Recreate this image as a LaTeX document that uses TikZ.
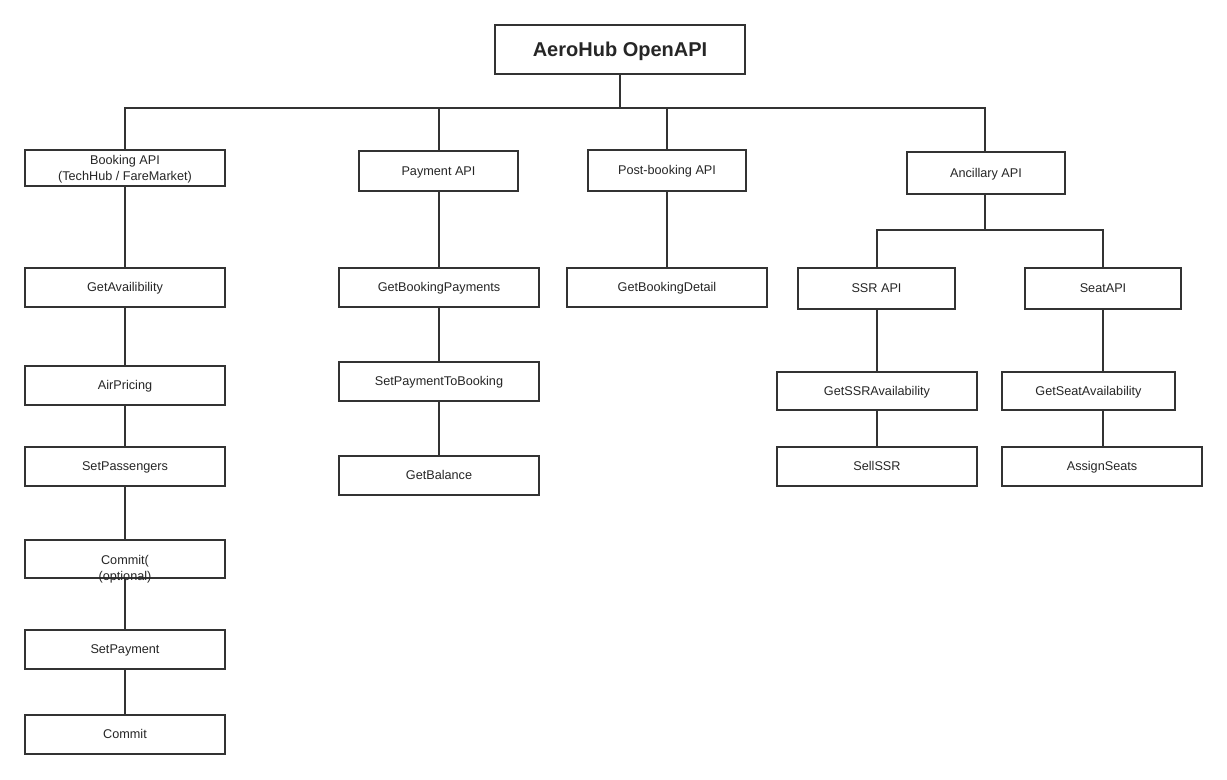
\documentclass[tikz,border=0pt]{standalone}
\usepackage{fontspec}
\setmainfont{Liberation Sans}
\newcommand\bx[6]{\node[box,minimum width={(#4-#2)*0.75pt},minimum height={(#5-#3)*0.75pt}] (#1) at ({(#2+#4)/2},{(#3+#5)/2}) {#6};}
\begin{document}
\begin{tikzpicture}[x=0.75pt,y=-0.75pt,
 box/.style={draw=black!80,line width=1.2pt,fill=white,inner sep=0pt,align=center,font=\fontsize{9.5}{12}\selectfont,text=black!85,text depth=0.5pt},
 ln/.style={draw=black!80,line width=1.2pt}]
\fill[white] (0,0) rectangle (1227,780);
\useasboundingbox (0,0) rectangle (1227,780);
% connectors first
\draw[ln] (620,74) -- (620,108);
\draw[ln] (125,150) -- (125,108) -- (985,108) -- (985,152);
\draw[ln] (439,108) -- (439,151);
\draw[ln] (667,108) -- (667,150);
\draw[ln] (125,186) -- (125,715);
\draw[ln] (439,191) -- (439,456);
\draw[ln] (667,191) -- (667,268);
\draw[ln] (985,194) -- (985,230);
\draw[ln] (877,268) -- (877,230) -- (1103,230) -- (1103,268);
\draw[ln] (877,309) -- (877,447);
\draw[ln] (1103,309) -- (1103,447);
\bx{root}{495}{25}{745}{74}{\fontsize{15}{18}\selectfont\bfseries AeroHub OpenAPI}
\bx{book}{25}{150}{225}{186}{Booking API\\(TechHub / FareMarket)}
\bx{pay}{359}{151}{518}{191}{Payment API}
\bx{post}{588}{150}{746}{191}{Post-booking API}
\bx{anc}{907}{152}{1065}{194}{Ancillary API}
\bx{ga}{25}{268}{225}{307}{GetAvailibility}
\bx{ap}{25}{366}{225}{405}{AirPricing}
\bx{sp}{25}{447}{225}{486}{SetPassengers}
\bx{c1}{25}{540}{225}{578}{}
\node[font=\fontsize{9.5}{12}\selectfont,text=black!85,align=center] at (125,569) {Commit(\\(optional)};
\bx{spay}{25}{630}{225}{669}{SetPayment}
\bx{c2}{25}{715}{225}{754}{Commit}
\bx{gbp}{339}{268}{539}{307}{GetBookingPayments}
\bx{sptb}{339}{362}{539}{401}{SetPaymentToBooking}
\bx{gb}{339}{456}{539}{495}{GetBalance}
\bx{gbd}{567}{268}{767}{307}{GetBookingDetail}
\bx{ssr}{798}{268}{955}{309}{SSR API}
\bx{seat}{1025}{268}{1181}{309}{SeatAPI}
\bx{gssr}{777}{372}{977}{410}{GetSSRAvailability}
\bx{sell}{777}{447}{977}{486}{SellSSR}
\bx{gseat}{1002}{372}{1175}{410}{GetSeatAvailability}
\bx{as}{1002}{447}{1202}{486}{AssignSeats}
\end{tikzpicture}
\end{document}
